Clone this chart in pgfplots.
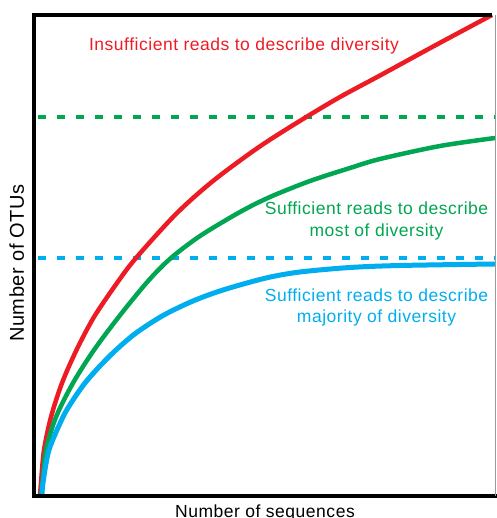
\documentclass[border=0pt]{standalone}
\usepackage{pgfplots}
\pgfplotsset{compat=1.18}
\usepackage{fontspec}
\setmainfont{Liberation Sans}[LetterSpace=3]
\definecolor{cred}{HTML}{ED1C24}
\definecolor{cgreen}{HTML}{00A651}
\definecolor{cblue}{HTML}{00AEEF}
\begin{document}
\begin{tikzpicture}
\begin{axis}[
  name=ax,
  width=460.5pt, height=480.5pt, scale only axis,
  xmin=0, xmax=460.5, ymin=0, ymax=480.5,
  axis line style={draw=none},
  ticks=none, clip=false,
  font=\fontsize{17.5}{21}\selectfont,
]
% dashed levels
\addplot[cgreen, line width=4.5pt, dash pattern=on 8pt off 11pt] coordinates {(3.5,378.5) (460.5,378.5)};
\addplot[cblue, line width=4.5pt, dash pattern=on 8pt off 11pt] coordinates {(3.5,237.5) (460.5,237.5)};
% red: insufficient
\addplot[cred, line width=4.5pt, smooth] coordinates {
(5.5,0) (6.5,12.5) (9.5,45.5) (16.5,78.5) (27.5,112.5) (42,145.5) (59.5,178.5) (82.5,212.5) (101.5,237.5) (141.5,281.5) (178.5,314.5) (224.5,348.5) (268.5,376.5) (305.5,398.5) (345.5,420) (400.5,450) (457.5,480.5)};
% green: most
\addplot[cgreen, line width=4.5pt, smooth] coordinates {
(6.5,0) (8,12.5) (11.5,45.5) (21.5,78.5) (38.5,112.5) (59.5,145.5) (86.5,181.5) (114.5,215.5) (136.5,237.5) (165.5,259.5) (205.5,283.5) (235.5,298.5) (275.5,314.5) (315.5,327.5) (345.5,336.5) (405.5,349.5) (460.5,357.5)};
% blue: majority
\addplot[cblue, line width=5pt, smooth] coordinates {
(7.5,0) (8.5,12.5) (14.5,45.5) (28.5,78.5) (38.5,95.5) (50.5,112.5) (64.5,128.5) (81.5,145.5) (101.5,162.5) (128.5,180) (158.5,194.5) (188.5,205.5) (231.5,217.5) (265.5,223.5) (315.5,228) (365.5,230) (460.5,231.5)};
% frame
\draw[black, line width=4pt, line cap=rect] (rel axis cs:0.99,1) -- (rel axis cs:0,1) -- (rel axis cs:0,0) -- (rel axis cs:1,0);
\draw[black!40, line width=1pt] (rel axis cs:1,0) -- (rel axis cs:1,1);
% texts
\node[cred, anchor=base] at (axis cs:209.5,444.5) {Insufficient reads to describe diversity};
\node[cgreen, anchor=base] at (axis cs:342,280.5) {Sufficient reads to describe};
\node[cgreen, anchor=base] at (axis cs:342,258.5) {most of diversity};
\node[cblue, anchor=base] at (axis cs:342,193.5) {Sufficient reads to describe};
\node[cblue, anchor=base] at (axis cs:342,172.5) {majority of diversity};
\node[anchor=base] at (axis cs:230.5,-21.5) {Number of sequences};
\node[anchor=base, rotate=90, font=\fontsize{20}{23}\selectfont] at (axis cs:-10.5,232.5) {Number of OTUs};
\end{axis}
\pgfresetboundingbox
\useasboundingbox (ax.south west) ++(-34.5pt,-22.5pt) rectangle ++(496pt,518pt);
\end{tikzpicture}
\end{document}
